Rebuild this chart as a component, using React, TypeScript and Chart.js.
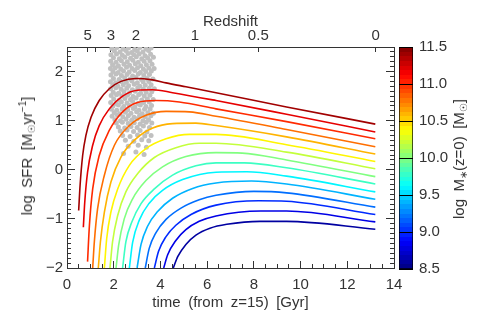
import React, { useEffect, useRef } from 'react';
import { Chart, registerables } from 'chart.js';

Chart.register(...registerables);

// ---------------- data ----------------
// log M*(z=0) of each star-formation history track (top curve first)
const stellarMassesZ0 = [11.4, 11.2, 11.0, 10.8, 10.6, 10.4, 10.2, 10.0, 9.8, 9.6, 9.4, 9.2, 9.0, 8.8, 8.6];

// [time (Gyr), log SFR]
const sfh_11_4 = [[0.50, -0.83], [0.56, -0.32], [0.67, 0.29], [0.81, 0.70], [1.03, 1.07], [1.38, 1.41], [1.81, 1.65], [2.31, 1.80], [2.95, 1.86], [3.67, 1.83], [4.24, 1.77], [5.09, 1.69], [6.38, 1.57], [9.40, 1.28], [13.2, 0.93]];
const sfh_11_2 = [[0.70, -1.17], [0.76, -0.66], [0.88, -0.05], [1.10, 0.50], [1.38, 0.90], [1.81, 1.24], [2.38, 1.50], [3.02, 1.62], [3.67, 1.63], [4.52, 1.57], [6.38, 1.41], [9.40, 1.13], [13.2, 0.77]];
const sfh_11_0 = [[0.88, -1.87], [0.96, -1.13], [1.10, -0.39], [1.38, 0.29], [1.81, 0.80], [2.38, 1.18], [3.02, 1.37], [3.81, 1.41], [4.81, 1.38], [6.38, 1.24], [9.40, 0.98], [13.2, 0.63]];
const sfh_10_8 = [[1.10, -2.0], [1.17, -1.47], [1.31, -0.79], [1.60, -0.11], [2.03, 0.50], [2.67, 0.90], [3.38, 1.11], [4.24, 1.19], [5.24, 1.18], [6.38, 1.09], [9.40, 0.82], [13.2, 0.47]];
const sfh_10_6 = [[1.34, -2.0], [1.43, -1.47], [1.60, -0.86], [1.88, -0.25], [2.31, 0.26], [2.95, 0.63], [3.67, 0.85], [4.52, 0.94], [5.52, 0.95], [6.38, 0.90], [9.40, 0.67], [13.2, 0.32]];
const sfh_10_4 = [[1.60, -2.0], [1.70, -1.40], [1.88, -0.86], [2.17, -0.39], [2.67, 0.09], [3.38, 0.43], [4.24, 0.63], [5.24, 0.72], [6.38, 0.72], [9.40, 0.51], [13.2, 0.17]];
const sfh_10_2 = [[1.84, -2.0], [1.95, -1.47], [2.17, -0.93], [2.52, -0.45], [3.02, -0.08], [3.74, 0.25], [4.66, 0.45], [5.66, 0.54], [6.38, 0.54], [9.40, 0.36], [13.2, 0.02]];
const sfh_10_0 = [[2.10, -2.0], [2.21, -1.54], [2.45, -1.00], [2.81, -0.59], [3.38, -0.22], [4.09, 0.06], [5.09, 0.27], [6.38, 0.35], [7.5, 0.34], [9.40, 0.20], [13.2, -0.14]];
const sfh_9_8 = [[2.38, -2.0], [2.52, -1.47], [2.78, -1.06], [3.17, -0.69], [3.74, -0.39], [4.52, -0.11], [5.52, 0.08], [6.38, 0.14], [7.6, 0.14], [9.40, 0.04], [13.2, -0.29]];
const sfh_9_6 = [[2.67, -2.0], [2.81, -1.48], [3.10, -1.02], [3.52, -0.68], [4.09, -0.42], [4.95, -0.20], [6.38, -0.05], [7.7, -0.04], [9.40, -0.13], [13.2, -0.45]];
const sfh_9_4 = [[3.00, -2.0], [3.17, -1.52], [3.45, -1.15], [3.88, -0.85], [4.52, -0.58], [5.38, -0.38], [6.38, -0.27], [7.9, -0.23], [9.40, -0.29], [13.2, -0.60]];
const sfh_9_2 = [[3.35, -2.0], [3.52, -1.60], [3.81, -1.28], [4.24, -1.01], [4.88, -0.78], [5.66, -0.61], [6.38, -0.52], [8.0, -0.44], [9.40, -0.47], [13.2, -0.76]];
const sfh_9_0 = [[3.74, -2.0], [3.92, -1.66], [4.24, -1.36], [4.66, -1.13], [5.31, -0.91], [6.38, -0.72], [8.2, -0.63], [9.40, -0.64], [13.2, -0.91]];
const sfh_8_8 = [[4.14, -2.0], [4.31, -1.73], [4.66, -1.44], [5.09, -1.22], [5.66, -1.05], [6.38, -0.94], [8.3, -0.84], [9.40, -0.84], [13.2, -1.06]];
const sfh_8_6 = [[4.55, -2.0], [4.74, -1.77], [5.09, -1.52], [5.52, -1.33], [6.12, -1.19], [6.84, -1.11], [8.26, -1.05], [9.40, -1.05], [13.2, -1.21]];

const tracks = [sfh_11_4, sfh_11_2, sfh_11_0, sfh_10_8, sfh_10_6, sfh_10_4, sfh_10_2, sfh_10_0, sfh_9_8, sfh_9_6, sfh_9_4, sfh_9_2, sfh_9_0, sfh_8_8, sfh_8_6];

// observed star-forming galaxies, [time (Gyr), log SFR]
const observedGalaxies = [
  [1.92, 2.47], [2.14, 2.49], [2.4, 2.46], [2.63, 2.48], [2.9, 2.45], [3.12, 2.49], [3.38, 2.46], [3.6, 2.48],
  [2.03, 2.42], [2.27, 2.40], [2.52, 2.43], [2.77, 2.39], [3.01, 2.42], [3.25, 2.40], [3.49, 2.43],
  [1.88, 2.34], [2.12, 2.36], [2.37, 2.33], [2.61, 2.37], [2.86, 2.34], [3.09, 2.36], [3.34, 2.32], [3.58, 2.35],
  [1.99, 2.28], [2.24, 2.26], [2.48, 2.29], [2.72, 2.27], [2.97, 2.30], [3.2, 2.26], [3.45, 2.28], [3.7, 2.29],
  [1.87, 2.21], [2.1, 2.19], [2.33, 2.22], [2.58, 2.20], [2.82, 2.23], [3.05, 2.19], [3.3, 2.21], [3.55, 2.22],
  [1.95, 2.14], [2.2, 2.12], [2.44, 2.15], [2.68, 2.13], [2.92, 2.16], [3.16, 2.12], [3.4, 2.14], [3.64, 2.15],
  [1.86, 2.06], [2.07, 2.08], [2.3, 2.05], [2.55, 2.09], [2.79, 2.06], [3.02, 2.08], [3.27, 2.05], [3.5, 2.07], [3.73, 2.06],
  [1.97, 2.0], [2.19, 1.98], [2.42, 2.01], [2.66, 1.99], [2.9, 2.02], [3.14, 1.98], [3.37, 2.0], [3.61, 2.01],
  [1.88, 1.93], [2.1, 1.95], [2.33, 1.92], [2.57, 1.94], [2.81, 1.91], [3.05, 1.95], [3.29, 1.92], [3.53, 1.94],
  [1.99, 1.86], [2.23, 1.84], [2.47, 1.87], [2.71, 1.85], [2.95, 1.88], [3.19, 1.84], [3.43, 1.86], [3.68, 1.85],
  [1.86, 1.79], [2.08, 1.77], [2.31, 1.80], [2.54, 1.78], [2.78, 1.81], [3.01, 1.77], [3.26, 1.79], [3.5, 1.80],
  [1.96, 1.72], [2.18, 1.70], [2.41, 1.73], [2.64, 1.71], [2.88, 1.74], [3.12, 1.70], [3.35, 1.72], [3.6, 1.73],
  [1.87, 1.65], [2.09, 1.67], [2.32, 1.64], [2.56, 1.66], [2.8, 1.63], [3.03, 1.67], [3.27, 1.64], [3.52, 1.66], [3.74, 1.65],
  [1.98, 1.58], [2.21, 1.56], [2.44, 1.59], [2.68, 1.57], [2.92, 1.60], [3.15, 1.56], [3.39, 1.58], [3.63, 1.59],
  [1.89, 1.51], [2.12, 1.53], [2.35, 1.50], [2.59, 1.52], [2.83, 1.49], [3.07, 1.53], [3.31, 1.50], [3.55, 1.52],
  [2.0, 1.44], [2.24, 1.42], [2.48, 1.45], [2.72, 1.43], [2.96, 1.46], [3.2, 1.42], [3.44, 1.44], [3.69, 1.43],
  [1.87, 1.37], [2.1, 1.35], [2.33, 1.38], [2.57, 1.36], [2.81, 1.39], [3.04, 1.35], [3.28, 1.37], [3.52, 1.38],
  [1.97, 1.30], [2.2, 1.32], [2.43, 1.29], [2.67, 1.31], [2.91, 1.28], [3.14, 1.32], [3.38, 1.29], [3.62, 1.31],
  [1.9, 1.23], [2.13, 1.21], [2.36, 1.24], [2.6, 1.22], [2.84, 1.25], [3.08, 1.21], [3.32, 1.23], [3.56, 1.24],
  [2.02, 1.16], [2.26, 1.14], [2.5, 1.17], [2.74, 1.15], [2.98, 1.18], [3.22, 1.14], [3.46, 1.16], [3.7, 1.15],
  [1.93, 1.09], [2.16, 1.11], [2.39, 1.08], [2.63, 1.10], [2.87, 1.07], [3.11, 1.11], [3.35, 1.08], [3.59, 1.10],
  [2.05, 1.02], [2.29, 1.00], [2.53, 1.03], [2.77, 1.01], [3.01, 1.04], [3.25, 1.00], [3.49, 1.02],
  [2.11, 0.95], [2.37, 0.97], [2.62, 0.94], [2.88, 0.96], [3.13, 0.93], [3.39, 0.97], [3.63, 0.95],
  [2.2, 0.87], [2.47, 0.85], [2.74, 0.88], [3.0, 0.86], [3.27, 0.89], [3.53, 0.86],
  [2.28, 0.79], [2.57, 0.81], [2.85, 0.78], [3.13, 0.80], [3.42, 0.77],
  [2.38, 0.70], [2.7, 0.68], [3.02, 0.71], [3.33, 0.69], [3.6, 0.70],
  [2.5, 0.60], [2.86, 0.58], [3.2, 0.61], [3.5, 0.59],
  [2.62, 0.48], [3.05, 0.50], [3.4, 0.46],
  [2.42, 0.33], [2.95, 0.36], [3.3, 0.31],
];

// axis ticks
const timeMajorTicks = [0, 2, 4, 6, 8, 10, 12, 14];
const sfrMajorTicks = [-2, -1, 0, 1, 2];
const redshiftTickTimes = [0.89, 1.24, 1.88, 2.95, 5.48, 8.19, 13.22];
const redshiftTickLabels = ['5', '', '3', '2', '1', '0.5', '0'];
const colorbarTicks = [8.5, 9.0, 9.5, 10.0, 10.5, 11.0, 11.5];
const colorbarRange = [8.5, 11.5];

// ---------------- styling ----------------
const FONT = "'Liberation Sans', Arial, Helvetica, sans-serif";
const TEXT = '#333';
const AXIS = '#333';
const SP = '\u2002';

function jet(f: number): string {
  const c = (v: number) => Math.round(255 * Math.max(0, Math.min(1, v)));
  return `rgb(${c(1.5 - Math.abs(4 * f - 3))},${c(1.5 - Math.abs(4 * f - 2))},${c(1.5 - Math.abs(4 * f - 1))})`;
}
const massToFrac = (m: number) => (m - colorbarRange[0]) / (colorbarRange[1] - colorbarRange[0]);

function stepList(a: number, b: number, step: number): number[] {
  const out: number[] = [];
  const n = Math.round((b - a) / step);
  for (let i = 0; i <= n; i++) out.push(Math.round((a + i * step) * 1000) / 1000);
  return out;
}

export default function App() {
  const mainRef = useRef<HTMLCanvasElement>(null);
  const cbRef = useRef<HTMLCanvasElement>(null);

  useEffect(() => {
    const font = { family: FONT, size: 15 };
    const setTicks = (vals: number[]) => (s: any) => {
      s.ticks = vals.map((v) => ({ value: v }));
    };
    const fmt = (v: any) => String(v).replace('-', '\u2212');

    // scatter cloud first (drawn underneath), tracks on top
    const datasets: any[] = [
      {
        label: 'galaxies',
        data: observedGalaxies.map(([x, y]) => ({ x, y })),
        showLine: false,
        pointRadius: 2.5,
        pointBackgroundColor: '#c0c0c0',
        backgroundColor: '#c0c0c0',
        pointBorderWidth: 0,
        borderWidth: 0,
        order: 10,
        clip: 0,
      },
      ...tracks.map((pts, i) => ({
        label: `log M = ${stellarMassesZ0[i]}`,
        data: pts.map(([x, y]) => ({ x, y })),
        showLine: true,
        borderColor: jet(massToFrac(stellarMassesZ0[i])),
        borderWidth: 1.6,
        pointRadius: 0,
        cubicInterpolationMode: 'monotone',
        order: 0,
      })),
    ];

    const tickOnly = (position: string, vals: number[], len: number, sizeKey: 'width' | 'height', extra: any = {}) => ({
      type: 'linear',
      position,
      weight: 0,
      afterBuildTicks: setTicks(vals),
      ticks: { display: false, autoSkip: false },
      grid: { drawOnChartArea: false, tickLength: -len, color: AXIS, lineWidth: 1 },
      border: { display: false },
      afterFit: (s: any) => {
        s[sizeKey] = 0;
      },
      ...extra,
    });

    const main = new Chart(mainRef.current as HTMLCanvasElement, {
      type: 'scatter',
      data: { datasets },
      options: {
        animation: false,
        responsive: false,
        maintainAspectRatio: false,
        events: [],
        layout: { padding: { left: 0, top: 0, right: 91, bottom: 0 } },
        plugins: { legend: { display: false }, tooltip: { enabled: false } },
        scales: {
          x: {
            type: 'linear',
            position: 'bottom',
            min: 0,
            max: 14,
            weight: 1,
            afterBuildTicks: setTicks(timeMajorTicks),
            ticks: { font, color: TEXT, padding: 15, autoSkip: false, maxRotation: 0, callback: (v: any) => fmt(v) },
            grid: { drawOnChartArea: false, tickLength: -7, color: AXIS, lineWidth: 1 },
            border: { display: true, color: AXIS, width: 1 },
            title: { display: true, text: `time${SP}(from${SP}z=15)${SP}[Gyr]`, font, color: TEXT, padding: { top: 0, bottom: 11 } },
            afterFit: (s: any) => {
              s.height = 55;
            },
          },
          xMinor: tickOnly('bottom', stepList(0, 14, 0.5), 4, 'height', { min: 0, max: 14 }),
          xTop: {
            type: 'linear',
            position: 'top',
            min: 0,
            max: 14,
            weight: 1,
            afterBuildTicks: setTicks(redshiftTickTimes),
            ticks: { font, color: TEXT, padding: 7, autoSkip: false, maxRotation: 0, callback: (_v: any, i: number) => redshiftTickLabels[i] },
            grid: { drawOnChartArea: false, tickLength: -5, color: AXIS, lineWidth: 1 },
            border: { display: true, color: AXIS, width: 1 },
            title: { display: true, text: 'Redshift', font, color: TEXT, padding: { top: 13, bottom: 0 } },
            afterFit: (s: any) => {
              s.height = 47;
            },
          },
          y: {
            type: 'linear',
            position: 'left',
            min: -2,
            max: 2.5,
            weight: 1,
            afterBuildTicks: setTicks(sfrMajorTicks),
            ticks: { font, color: TEXT, padding: 12, autoSkip: false, callback: (v: any) => fmt(v) },
            grid: { drawOnChartArea: false, tickLength: -8, color: AXIS, lineWidth: 1 },
            border: { display: true, color: AXIS, width: 1 },
            title: { display: false },
            afterFit: (s: any) => {
              s.width = 67;
            },
          },
          yMinor: tickOnly('left', stepList(-2, 2.5, 0.1), 4, 'width', { min: -2, max: 2.5 }),
          yRight: {
            type: 'linear',
            position: 'right',
            min: -2,
            max: 2.5,
            weight: 1,
            afterBuildTicks: setTicks(sfrMajorTicks),
            ticks: { display: false, autoSkip: false },
            grid: { drawOnChartArea: false, tickLength: -8, color: AXIS, lineWidth: 1 },
            border: { display: true, color: AXIS, width: 1 },
            afterFit: (s: any) => {
              s.width = 0;
            },
          },
          yRightMinor: tickOnly('right', stepList(-2, 2.5, 0.1), 4, 'width', { min: -2, max: 2.5 }),
        },
      } as any,
    });

    const cb = new Chart(cbRef.current as HTMLCanvasElement, {
      type: 'bar',
      data: {
        labels: [''],
        datasets: [
          {
            label: 'log M*(z=0)',
            data: [[colorbarRange[0], colorbarRange[1]]],
            backgroundColor: (ctx: any) => {
              const area = ctx.chart.chartArea;
              if (!area) return '#888';
              const g = ctx.chart.ctx.createLinearGradient(0, area.bottom, 0, area.top);
              const N = 48;
              for (let k = 0; k < N; k++) {
                const col = jet((k + 0.5) / N);
                g.addColorStop(k / N, col);
                g.addColorStop((k + 1) / N, col);
              }
              return g;
            },
            borderColor: '#000',
            borderWidth: 1,
            borderSkipped: false,
            barPercentage: 1,
            categoryPercentage: 1,
          } as any,
        ],
      },
      options: {
        animation: false,
        responsive: false,
        maintainAspectRatio: false,
        events: [],
        layout: { padding: { left: 9, top: 47, bottom: 54, right: 0 } },
        plugins: { legend: { display: false }, tooltip: { enabled: false } },
        scales: {
          x: { display: false },
          y: {
            type: 'linear',
            position: 'right',
            min: colorbarRange[0],
            max: colorbarRange[1],
            afterBuildTicks: setTicks(colorbarTicks),
            ticks: { font, color: TEXT, padding: 6, autoSkip: false, callback: (v: any) => Number(v).toFixed(1) },
            grid: { drawOnChartArea: true, drawTicks: false, color: '#000', lineWidth: 1, z: 1 },
            border: { display: false },
            afterFit: (s: any) => {
              s.width = 72;
            },
          },
        },
      } as any,
    });

    return () => {
      main.destroy();
      cb.destroy();
    };
  }, []);

  const vtext: React.CSSProperties = {
    position: 'absolute',
    transform: 'translate(-50%, -50%) rotate(-90deg)',
    whiteSpace: 'nowrap',
    fontFamily: FONT,
    fontSize: 15,
    color: TEXT,
    lineHeight: '18px',
  };
  const sub: React.CSSProperties = { fontSize: 10, verticalAlign: '-3px', lineHeight: 0 };
  const sup: React.CSSProperties = { fontSize: 10, verticalAlign: '6px', lineHeight: 0 };

  return (
    <div style={{ position: 'fixed', left: 0, top: 0, width: 485, height: 323, background: '#fff', overflow: 'hidden' }}>
      <canvas ref={mainRef} width={485} height={323} style={{ position: 'absolute', left: 0, top: 0, width: 485, height: 323 }} />
      <canvas ref={cbRef} width={95} height={323} style={{ position: 'absolute', left: 390, top: 0, width: 95, height: 323 }} />
      <div style={{ ...vtext, left: 27, top: 156 }}>
        log{SP}SFR{SP}[M<span style={sub}>☉</span>yr<span style={sup}>−1</span>]
      </div>
      <div style={{ ...vtext, left: 459, top: 159 }}>
        log{SP}M<span style={sub}>∗</span>(z=0){SP}[M<span style={sub}>☉</span>]
      </div>
    </div>
  );
}
